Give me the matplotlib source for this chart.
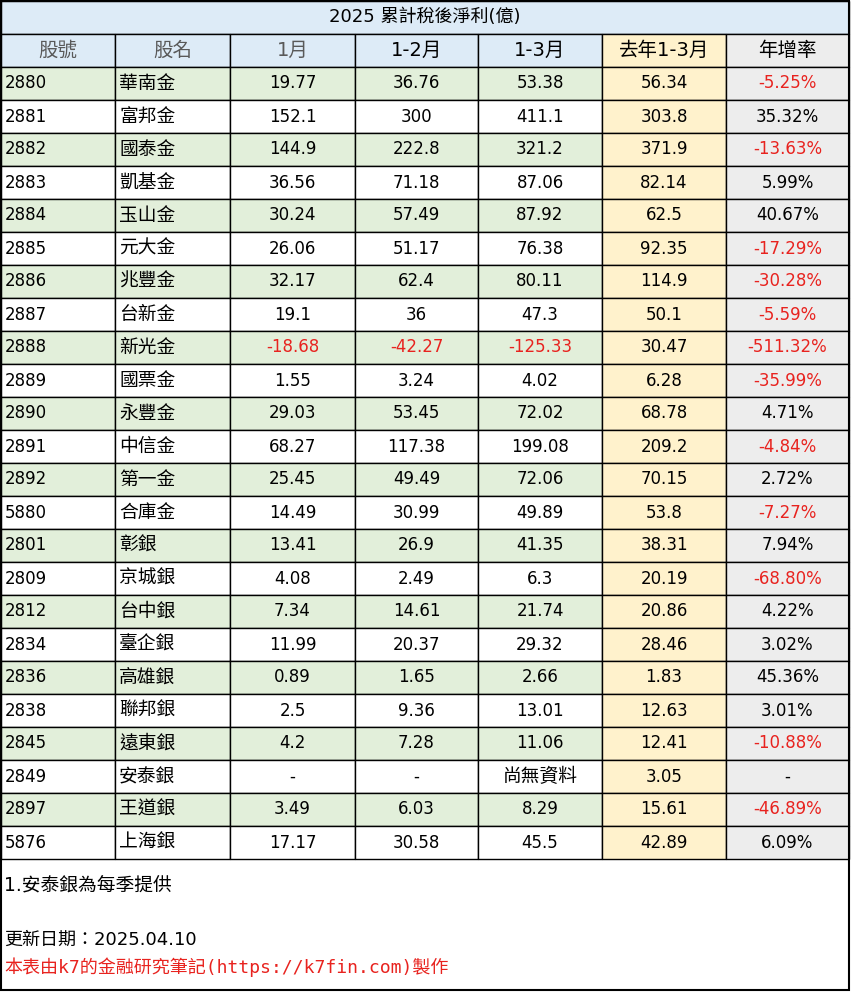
import matplotlib.pyplot as plt
from matplotlib.patches import Rectangle
import matplotlib

matplotlib.rc('font', family=['DejaVu Sans', 'Noto Sans CJK TC'])

title = '2025 累計稅後淨利(億)'
headers = ['股號', '股名', '1月', '1-2月', '1-3月', '去年1-3月', '年增率']
codes = ['2880', '2881', '2882', '2883', '2884', '2885', '2886', '2887', '2888', '2889',
         '2890', '2891', '2892', '5880', '2801', '2809', '2812', '2834', '2836', '2838',
         '2845', '2849', '2897', '5876']
names = ['華南金', '富邦金', '國泰金', '凱基金', '玉山金', '元大金', '兆豐金', '台新金', '新光金', '國票金',
         '永豐金', '中信金', '第一金', '合庫金', '彰銀', '京城銀', '台中銀', '臺企銀', '高雄銀', '聯邦銀',
         '遠東銀', '安泰銀', '王道銀', '上海銀']
m1 = ['19.77', '152.1', '144.9', '36.56', '30.24', '26.06', '32.17', '19.1', '-18.68', '1.55',
      '29.03', '68.27', '25.45', '14.49', '13.41', '4.08', '7.34', '11.99', '0.89', '2.5',
      '4.2', '-', '3.49', '17.17']
m12 = ['36.76', '300', '222.8', '71.18', '57.49', '51.17', '62.4', '36', '-42.27', '3.24',
       '53.45', '117.38', '49.49', '30.99', '26.9', '2.49', '14.61', '20.37', '1.65', '9.36',
       '7.28', '-', '6.03', '30.58']
m13 = ['53.38', '411.1', '321.2', '87.06', '87.92', '76.38', '80.11', '47.3', '-125.33', '4.02',
       '72.02', '199.08', '72.06', '49.89', '41.35', '6.3', '21.74', '29.32', '2.66', '13.01',
       '11.06', '尚無資料', '8.29', '45.5']
last = ['56.34', '303.8', '371.9', '82.14', '62.5', '92.35', '114.9', '50.1', '30.47', '6.28',
        '68.78', '209.2', '70.15', '53.8', '38.31', '20.19', '20.86', '28.46', '1.83', '12.63',
        '12.41', '3.05', '15.61', '42.89']
growth = ['-5.25%', '35.32%', '-13.63%', '5.99%', '40.67%', '-17.29%', '-30.28%', '-5.59%', '-511.32%', '-35.99%',
          '4.71%', '-4.84%', '2.72%', '-7.27%', '7.94%', '-68.80%', '4.22%', '3.02%', '45.36%', '3.01%',
          '-10.88%', '-', '-46.89%', '6.09%']
note1 = '1.安泰銀為每季提供'
note2 = '更新日期：2025.04.10'
note3 = '本表由k7的金融研究筆記(https://k7fin.com)製作'

cols = [1, 115, 230, 355, 478, 602, 726, 849]
row_h = 33
top = 1
blue, green, yellow, gray = '#DDEBF7', '#E2EFDA', '#FFF2CC', '#EDEDED'
red = '#E8231F'

fig = plt.figure(figsize=(8.51, 9.92), dpi=100)
ax = fig.add_axes([0, 0, 1, 1])
ax.set_xlim(0, 851)
ax.set_ylim(992, 0)
ax.axis('off')

def cell(c, r, text, fill, color='black', align='center', fs=12):
    x0, x1 = cols[c], cols[c + 1]
    y0 = top + row_h * r
    ax.add_patch(Rectangle((x0, y0), x1 - x0, row_h, facecolor=fill, edgecolor='black', lw=1))
    if align == 'left':
        ax.text(x0 + 4, y0 + row_h / 2, text, ha='left', va='center', fontsize=fs, color=color)
    else:
        ax.text((x0 + x1) / 2, y0 + row_h / 2, text, ha='center', va='center', fontsize=fs, color=color)

# title row
ax.add_patch(Rectangle((cols[0], top), cols[-1] - cols[0], row_h, facecolor=blue, edgecolor='black', lw=1))
ax.text((cols[0] + cols[-1]) / 2, top + row_h / 2, title, ha='center', va='center', fontsize=13)

hfill = [blue] * 5 + [yellow, gray]
hcol = ['#595959'] * 3 + ['black'] * 4
for c, h in enumerate(headers):
    cell(c, 1, h, hfill[c], hcol[c], fs=14)

for i in range(len(codes)):
    r = i + 2
    base = green if i % 2 == 0 else 'white'
    vals = [codes[i], names[i], m1[i], m12[i], m13[i], last[i], growth[i]]
    fills = [base] * 5 + [yellow, gray]
    for c, v in enumerate(vals):
        color = red if (v.startswith('-') and len(v) > 1 and c != 5) else 'black'
        fs = 13.5 if (c == 1 or v == '尚無資料') else 12
        cell(c, r, v, fills[c], color, 'left' if c < 2 else 'center', fs)

# outer frame
ax.add_patch(Rectangle((1, 1), 848, 989, facecolor='none', edgecolor='black', lw=1.5))
ax.text(4, 885, note1, ha='left', va='center', fontsize=13.5)
ax.text(4, 940, note2, ha='left', va='center', fontsize=13)
ax.text(4, 967, note3, ha='left', va='center', fontsize=13, color=red,
        family=['DejaVu Sans Mono', 'Noto Sans CJK TC'])

plt.savefig('out.png', dpi=100)
